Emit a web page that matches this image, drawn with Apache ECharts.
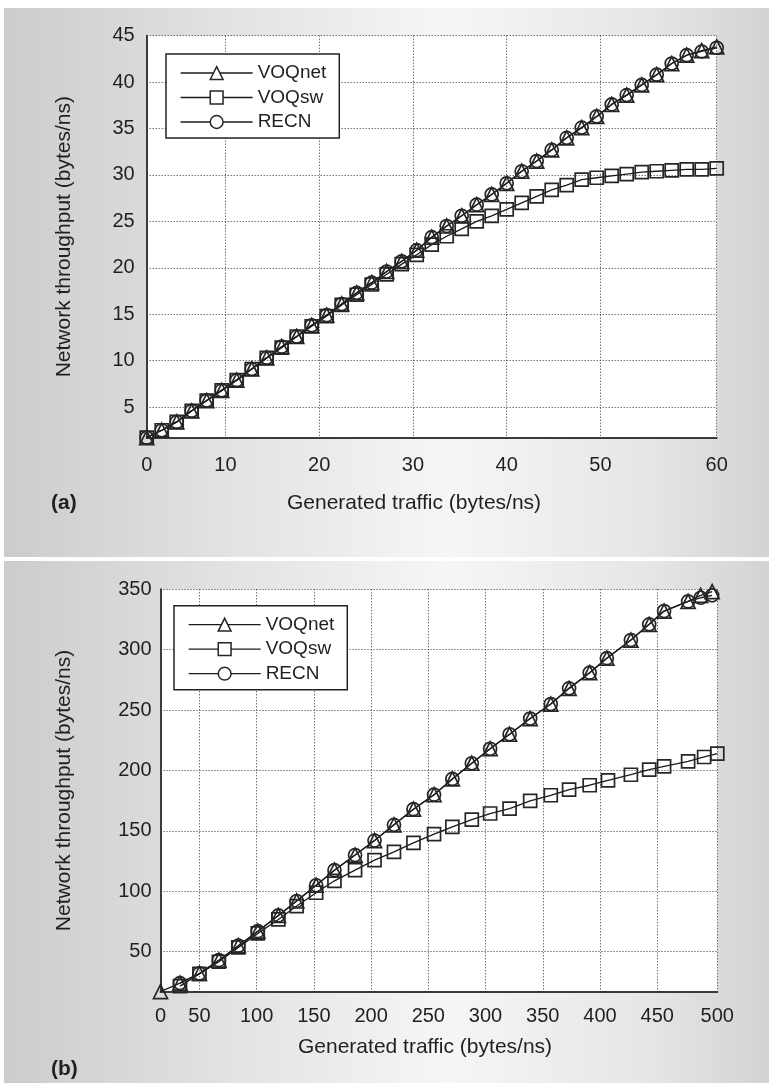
<!DOCTYPE html>
<html>
<head>
<meta charset="utf-8">
<script src="https://cdn.jsdelivr.net/npm/echarts@6/dist/echarts.min.js"></script>
<style>
  html, body { margin: 0; padding: 0; background: #fff; }
  #wrap { position: relative; width: 773px; height: 1087px; }
  .panel {
    position: absolute; left: 4px; width: 765px;
    background: linear-gradient(90deg, #cbccce 0%, #e2e3e4 30%, #f6f6f6 58%, #e5e6e7 84%, #d2d3d5 100%);
  }
  #chart { position: absolute; left: 0; top: 0; width: 773px; height: 1087px; }
</style>
</head>
<body>
<div id="wrap">
  <div class="panel" style="top:8px;height:549px"></div>
  <div class="panel" style="top:561px;height:522px"></div>
  <div id="chart"></div>
</div>
<script>
// (a) generated traffic, bytes/ns
const trafficA = [1.6, 3.2, 4.8, 6.4, 8.0, 9.6, 11.2, 12.8, 14.4, 16.0, 17.6, 19.2, 20.8, 22.4, 24.0, 25.6, 27.2, 28.8, 30.4, 32.0,
  33.6, 35.2, 36.8, 38.4, 40.0, 41.6, 43.2, 44.8, 46.4, 48.0, 49.6, 51.2, 52.8, 54.4, 56.0, 57.6, 59.2, 60.8, 62.4];
const voqnetA = [1.7, 2.5, 3.4, 4.6, 5.7, 6.8, 7.9, 9.1, 10.3, 11.5, 12.6, 13.8, 14.9, 16.1, 17.3, 18.4, 19.6, 20.7, 21.9, 23.3,
  24.5, 25.6, 26.8, 27.9, 29.1, 30.4, 31.5, 32.7, 34.0, 35.1, 36.3, 37.6, 38.6, 39.7, 40.8, 42.0, 42.9, 43.4, 43.8];
const voqswA = [1.7, 2.5, 3.4, 4.6, 5.7, 6.8, 7.9, 9.1, 10.3, 11.4, 12.6, 13.7, 14.8, 16.0, 17.1, 18.2, 19.3, 20.4, 21.4, 22.5,
  23.4, 24.2, 25.0, 25.6, 26.3, 27.0, 27.7, 28.4, 28.9, 29.5, 29.7, 29.9, 30.1, 30.3, 30.4, 30.5, 30.6, 30.6, 30.7];
const recnA = [1.7, 2.5, 3.4, 4.6, 5.7, 6.8, 7.9, 9.1, 10.3, 11.5, 12.6, 13.8, 14.9, 16.1, 17.3, 18.4, 19.6, 20.7, 21.9, 23.3,
  24.5, 25.6, 26.8, 27.9, 29.1, 30.4, 31.5, 32.7, 34.0, 35.1, 36.3, 37.6, 38.6, 39.7, 40.8, 42.0, 42.9, 43.3, 43.7];

// (b) generated traffic, bytes/ns
const trafficNetB = [16, 33, 50, 67, 84, 101, 119, 135, 152, 168, 186, 203, 220, 237, 255, 271, 288, 304, 321, 339,
  357, 373, 391, 406, 427, 443, 456, 477, 488, 498];
const voqnetB = [17, 24, 32, 43, 55, 67, 80, 92, 105, 117.5, 130, 142, 155, 168, 180, 193, 206, 218, 230, 243,
  255, 268, 281, 293, 308, 321, 332, 340, 345, 348];
const trafficRecnB = [33, 50, 67, 84, 101, 119, 135, 152, 168, 186, 203, 220, 237, 255, 271, 288, 304, 321, 339,
  357, 373, 391, 406, 427, 443, 456, 477, 488, 498];
const recnB = [24, 32, 43, 55, 67, 80, 92, 105, 117.5, 130, 142, 155, 168, 180, 193, 206, 218, 230, 243,
  255, 268, 281, 293, 308, 321, 332, 340, 343, 345];
const trafficSwB = [33, 50, 67, 84, 101, 119, 135, 152, 168, 186, 203, 220, 237, 255, 271, 288, 304, 321, 339,
  357, 373, 391, 407, 427, 443, 456, 477, 491, 502.5];
const voqswB = [21.5, 31.6, 41.7, 53.6, 65.2, 76.7, 87.8, 98.8, 108.7, 117.5, 125.8, 132.6, 140.1, 147.3, 153.3, 159.4, 164.4, 168.5, 174.8,
  179.5, 184.2, 187.8, 191.9, 196.5, 200.7, 203.5, 207.6, 211.2, 214];

// tick labels
const xLabelsA = [1.6, 10, 20, 30, 40, 50, 62.4];
const xLabelTextA = ['0', '10', '20', '30', '40', '50', '60'];
const yLabelsA = [5, 10, 15, 20, 25, 30, 35, 40, 45];
const xLabelsB = [16, 50, 100, 150, 200, 250, 300, 350, 400, 450, 502.5];
const xLabelTextB = ['0', '50', '100', '150', '200', '250', '300', '350', '400', '450', '500'];
const yLabelsB = [50, 100, 150, 200, 250, 300, 350];

const FONT = '"Liberation Sans", Arial, Helvetica, sans-serif';
const INK = '#231f20';

const chart = echarts.init(document.getElementById('chart'), null, { renderer: 'canvas' });

function series(name, xs, ys, symbol, idx) {
  return {
    name: name,
    type: 'line',
    xAxisIndex: idx,
    yAxisIndex: idx,
    data: xs.map((x, i) => [x, ys[i]]),
    symbol: symbol,
    symbolSize: symbol === 'triangle' ? 14 : 13,
    showAllSymbol: true,
    lineStyle: { color: '#1a1a1a', width: 1.3 },
    itemStyle: { color: 'transparent', borderColor: '#262626', borderWidth: 1.7 },
    emphasis: { disabled: true },
    animation: false
  };
}

function xAxis(idx, min, max, labels, texts, margin) {
  return {
    type: 'value',
    gridIndex: idx,
    min: min,
    max: max,
    axisLine: { show: true, onZero: false, lineStyle: { color: '#3a3a3a', width: 2 } },
    axisTick: { show: false, customValues: labels.slice(1) },
    axisLabel: {
      customValues: labels,
      showMinLabel: true,
      showMaxLabel: true,
      formatter: (v) => texts[labels.indexOf(v)] ?? '',
      fontFamily: FONT, fontSize: 20, color: INK, margin: margin
    },
    splitLine: { show: true, lineStyle: { type: [1, 2], color: '#333', width: 1 } }
  };
}

function yAxis(idx, min, max, labels, nameGap, margin) {
  return {
    type: 'value',
    gridIndex: idx,
    min: min,
    max: max,
    name: 'Network throughput (bytes/ns)',
    nameLocation: 'middle',
    nameGap: nameGap,
    nameTextStyle: { fontFamily: FONT, fontSize: 21, color: INK },
    axisLine: { show: true, onZero: false, lineStyle: { color: '#3a3a3a', width: 2 } },
    axisTick: { show: false, customValues: labels },
    axisLabel: { customValues: labels, fontFamily: FONT, fontSize: 20, color: INK, margin: margin },
    splitLine: { show: true, lineStyle: { type: [1, 2], color: '#333', width: 1 } }
  };
}

function legend(left, top) {
  return {
    left: left,
    top: top,
    orient: 'vertical',
    data: ['VOQnet', 'VOQsw', 'RECN'],
    backgroundColor: '#fff',
    borderColor: '#222',
    borderWidth: 1.5,
    borderRadius: 0,
    padding: [8, 13, 5, 14],
    itemWidth: 72,
    itemHeight: 16,
    itemGap: 2.5,
    itemStyle: { color: '#fff', borderColor: '#262626', borderWidth: 1.5 },
    lineStyle: { color: '#1a1a1a', width: 1.3 },
    textStyle: { fontFamily: FONT, fontSize: 19, color: INK, lineHeight: 22 },
    selectedMode: false
  };
}

const option = {
  backgroundColor: 'transparent',
  animation: false,
  grid: [
    { left: 146.7, right: 56.3, top: 35.7, height: 402, show: true, backgroundColor: '#fff', borderWidth: 0 },
    { left: 160.5, right: 55.7, top: 589.3, height: 402.4, show: true, backgroundColor: '#fff', borderWidth: 0 }
  ],
  xAxis: [
    xAxis(0, 1.6, 62.4, xLabelsA, xLabelTextA, 18),
    xAxis(1, 16, 502.5, xLabelsB, xLabelTextB, 15)
  ],
  yAxis: [
    yAxis(0, 1.7, 45, yLabelsA, 72, 12),
    yAxis(1, 16.9, 350, yLabelsB, 86, 9)
  ],
  legend: [legend(166, 54), legend(174, 605.7)],
  series: [
    series('VOQsw', trafficA, voqswA, 'rect', 0),
    series('VOQnet', trafficA, voqnetA, 'triangle', 0),
    series('RECN', trafficA, recnA, 'circle', 0),
    series('VOQsw', trafficSwB, voqswB, 'rect', 1),
    series('VOQnet', trafficNetB, voqnetB, 'triangle', 1),
    series('RECN', trafficRecnB, recnB, 'circle', 1)
  ],
  graphic: [
    { type: 'text', x: 287, y: 503, style: { text: 'Generated traffic (bytes/ns)', font: '21px ' + FONT, fill: INK, textVerticalAlign: 'middle' } },
    { type: 'text', x: 51, y: 503, style: { text: '(a)', font: 'bold 21px ' + FONT, fill: INK, textVerticalAlign: 'middle' } },
    { type: 'text', x: 298, y: 1047, style: { text: 'Generated traffic (bytes/ns)', font: '21px ' + FONT, fill: INK, textVerticalAlign: 'middle' } },
    { type: 'text', x: 51, y: 1069, style: { text: '(b)', font: 'bold 21px ' + FONT, fill: INK, textVerticalAlign: 'middle' } }
  ]
};

chart.setOption(option);
</script>
</body>
</html>
